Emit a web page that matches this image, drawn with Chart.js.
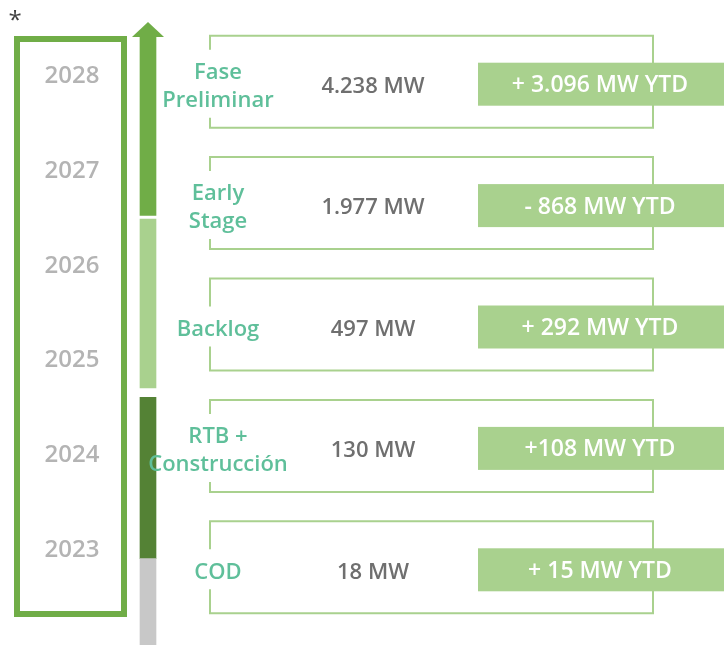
<!DOCTYPE html>
<html lang="es">
<head>
<meta charset="UTF-8">
<title>Cartera por fase</title>
<script src="https://cdn.jsdelivr.net/npm/chart.js"></script>
<style>
  body { margin: 0; background: #fff; }
  #wrap { position: relative; width: 724px; height: 645px; }
  #wrap canvas { position: absolute; top: 0; left: 0; }
</style>
</head>
<body>
<div id="wrap">
  <canvas id="timeline" width="296" height="645"></canvas>
  <canvas id="stages" width="724" height="645"></canvas>
</div>
<script>
// years shown in the left box
const years = [2023, 2024, 2025, 2026, 2027, 2028];

// arrow segments, as spans on the year axis
const phases = ['COD', 'RTB + Construcción', 'Backlog', 'Early Stage + Fase Preliminar'];
const phaseStart = [2021.98, 2022.89, 2024.69, 2026.51];
const phaseEnd = [2022.89, 2024.59, 2026.47, 2028.39];

// stage rows
const stages = [['Fase', 'Preliminar'], ['Early', 'Stage'], ['Backlog'], ['RTB +', 'Construcción'], ['COD']];
const totalMW = [4238, 1977, 497, 130, 18];
const ytdLabels = ['+ 3.096 MW YTD', '- 868 MW YTD', '+ 292 MW YTD', '+108 MW YTD', '+ 15 MW YTD'];

const phaseColors = ['#c8c8c8', '#548235', '#a9d18e', '#70ad47'];
const FONT = '"Open Sans", "Noto Sans", sans-serif';

// 4238 -> "4.238"
function fmt(n) {
    return String(n).replace(/\B(?=(\d{3})+(?!\d))/g, '.');
}

const timelinePlugin = {
    id: 'timeline',
    beforeDatasetsDraw(chart) {
        const ctx = chart.ctx;
        const y = chart.scales.y;
        ctx.save();
        ctx.fillStyle = '#404040';
        ctx.font = '24px ' + FONT;
        ctx.textAlign = 'center';
        ctx.textBaseline = 'alphabetic';
        ctx.fillText('*', 15, 28);

        ctx.strokeStyle = '#70ad47';
        ctx.lineWidth = 6;
        ctx.strokeRect(17, 39, 107, 575);

        ctx.font = '600 24px ' + FONT;
        ctx.fillStyle = '#b4b4b4';
        ctx.textBaseline = 'middle';
        years.forEach(yr => ctx.fillText(String(yr), 72, y.getPixelForValue(yr) + 2));
        ctx.restore();
    },
    afterDatasetsDraw(chart) {
        // arrow head on top of the last segment
        const bar = chart.getDatasetMeta(phases.length - 1).data[0];
        const { x, y, width } = bar.getProps(['x', 'y', 'width'], true);
        const ctx = chart.ctx;
        ctx.save();
        ctx.fillStyle = phaseColors[phases.length - 1];
        ctx.beginPath();
        ctx.moveTo(x - width, y);
        ctx.lineTo(x, y - 15);
        ctx.lineTo(x + width, y);
        ctx.closePath();
        ctx.fill();
        ctx.restore();
    }
};

new Chart(document.getElementById('timeline'), {
    type: 'bar',
    data: {
        labels: ['Cartera'],
        datasets: phases.map((p, i) => ({
            label: p,
            data: [[phaseStart[i], phaseEnd[i]]],
            backgroundColor: phaseColors[i],
            barThickness: 16,
            grouped: false,
            borderWidth: 0
        }))
    },
    options: {
        responsive: false,
        animation: false,
        layout: { padding: 0 },
        plugins: { legend: { display: false }, tooltip: { enabled: false } },
        scales: {
            x: { display: false },
            y: { display: false, min: 2021.98, max: 2028.78 }
        }
    },
    plugins: [timelinePlugin]
});

const stagePlugin = {
    id: 'stageRows',
    afterDraw(chart) {
        const ctx = chart.ctx;
        const y = chart.scales.y;
        const L = 210, R = 653, boxX = 478;
        ctx.save();
        ctx.textAlign = 'center';
        ctx.textBaseline = 'middle';
        stages.forEach((lines, i) => {
            const c = y.getPixelForValue(i);
            const top = c - 46, bot = c + 46;
            const half = lines.length * 14 + 6;

            // bracket, open on the left around the label
            ctx.strokeStyle = '#a9d18e';
            ctx.lineWidth = 2;
            ctx.beginPath();
            ctx.moveTo(L, c - half + 2);
            ctx.lineTo(L, top);
            ctx.lineTo(R, top);
            ctx.lineTo(R, bot);
            ctx.lineTo(L, bot);
            ctx.lineTo(L, c + half + 2);
            ctx.stroke();

            ctx.font = '600 22px ' + FONT;
            ctx.fillStyle = '#5fbf9a';
            lines.forEach((t, k) => {
                ctx.fillText(t, 218, c + 5 + (k - (lines.length - 1) / 2) * 28);
            });

            ctx.font = '600 22px ' + FONT;
            ctx.fillStyle = '#6f6f6f';
            ctx.fillText(fmt(totalMW[i]) + ' MW', 373, c + 5);

            ctx.fillStyle = '#a9d18e';
            ctx.fillRect(boxX, c - 19, chart.width - boxX, 43);
            ctx.font = '600 23px ' + FONT;
            ctx.fillStyle = '#ffffff';
            ctx.fillText(ytdLabels[i], 600, c + 4);
        });
        ctx.restore();
    }
};

new Chart(document.getElementById('stages'), {
    type: 'bar',
    data: { labels: stages, datasets: [] },
    options: {
        indexAxis: 'y',
        responsive: false,
        animation: false,
        layout: { padding: { top: 21, bottom: 17 } },
        plugins: { legend: { display: false }, tooltip: { enabled: false } },
        scales: {
            x: { display: false },
            y: { display: false }
        }
    },
    plugins: [stagePlugin]
});
</script>
</body>
</html>
